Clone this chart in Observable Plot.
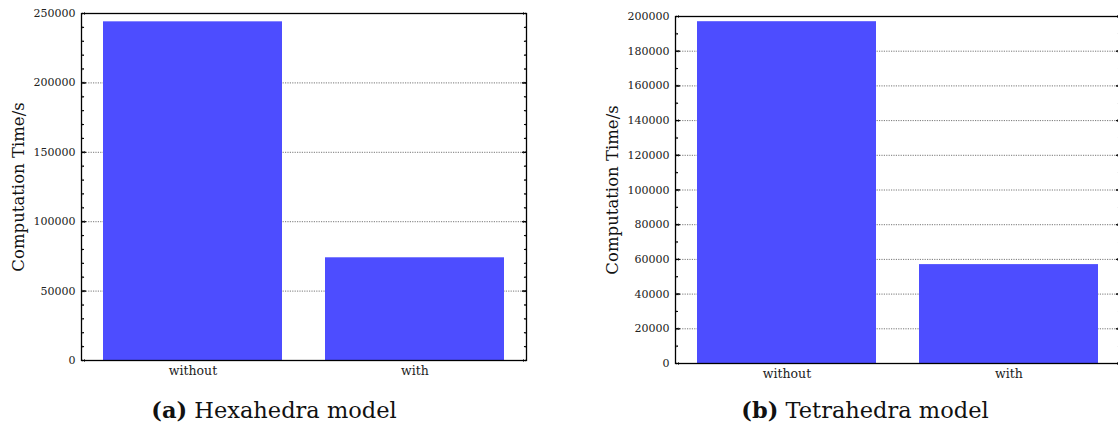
<!DOCTYPE html>
<html><head><meta charset="utf-8">
<script src="https://cdn.jsdelivr.net/npm/d3@7"></script>
<script src="https://cdn.jsdelivr.net/npm/@observablehq/plot@0.6"></script>
<style>
body{margin:0;background:#fff;}
#wrap{position:relative;width:1118px;height:430px;overflow:hidden;font-family:'DejaVu Serif',serif;color:#111;}
.panel{position:absolute;top:0;}
.cap{position:absolute;top:397px;font-size:22.5px;line-height:26px;text-align:center;width:540px;white-space:nowrap;}
</style></head><body><div id="wrap"></div>
<script>
const categories = ["without", "with"];
const hexaValues = [244000, 74000];
const tetraValues = [197000, 57000];
const hexaMajorTicks = [0, 50000, 100000, 150000, 200000, 250000];
const tetraMajorTicks = [0, 20000, 40000, 60000, 80000, 100000, 120000, 140000, 160000, 180000, 200000];
const hexaMinorTicks = d3.range(0, 250001, 10000);
const tetraMinorTicks = d3.range(0, 200001, 10000);
const yLabel = "Computation Time/s";
const captions = [["(a)", "Hexahedra model"], ["(b)", "Tetrahedra model"]];

function panel({values, ymax, major, minor, marginLeft, marginRight, marginTop, marginBottom, width, height}) {
  const data = categories.map((c, i) => ({cat: c, val: values[i]}));
  const tickStyle = {stroke: "#000", strokeWidth: 1, anchor: "start"};
  return Plot.plot({
    width, height, marginLeft, marginRight, marginTop, marginBottom,
    style: {fontFamily: "'DejaVu Serif', serif", fontSize: "11px", color: "#222", background: "white", overflow: "visible"},
    x: {domain: categories, paddingInner: 0.194, paddingOuter: 0.099, label: null},
    y: {domain: [0, ymax], label: null},
    marks: [
      Plot.ruleY(major, {y: d => d, stroke: "#777", strokeDasharray: "1.2,1.2", strokeWidth: 1}),
      Plot.barY(data, {x: "cat", y: "val", fill: "#4d4dff"}),
      Plot.vector(major, {y: d => d, frameAnchor: "left", rotate: 90, length: 4, ...tickStyle}),
      Plot.vector(minor, {y: d => d, frameAnchor: "left", rotate: 90, length: 2, ...tickStyle}),
      Plot.vector(major, {y: d => d, frameAnchor: "right", rotate: -90, length: 4, ...tickStyle}),
      Plot.vector(minor, {y: d => d, frameAnchor: "right", rotate: -90, length: 2, ...tickStyle}),
      Plot.axisY({ticks: major, tickSize: 0, tickPadding: 6, label: null, fontSize: 11, tickFormat: d => String(d)}),
      Plot.axisX({tickSize: 0, tickPadding: 6, label: null, fontSize: 12.5}),
      Plot.text([yLabel], {text: d => d, frameAnchor: "left", dx: -63, rotate: -90, textAnchor: "middle", fontSize: 16.5, fill: "#111"}),
      Plot.frame({stroke: "#000", strokeWidth: 1.3})
    ]
  });
}

const wrap = document.getElementById("wrap");
const left = panel({values: hexaValues, ymax: 250000, major: hexaMajorTicks, minor: hexaMinorTicks,
  marginLeft: 81, marginRight: 14, marginTop: 13, marginBottom: 20, width: 540, height: 380});
left.classList.add("panel"); left.style.left = "0px";
wrap.appendChild(left);
const right = panel({values: tetraValues, ymax: 200000, major: tetraMajorTicks, minor: tetraMinorTicks,
  marginLeft: 95, marginRight: 5, marginTop: 16, marginBottom: 20, width: 545, height: 383});
right.classList.add("panel"); right.style.left = "580px";
wrap.appendChild(right);

captions.forEach(([tag, txt], i) => {
  const d = document.createElement("div");
  d.className = "cap";
  d.style.left = (i === 0 ? 4 : 595) + "px";
  const b = document.createElement("b"); b.textContent = tag;
  d.appendChild(b);
  d.appendChild(document.createTextNode(" " + txt));
  wrap.appendChild(d);
});
</script></body></html>
